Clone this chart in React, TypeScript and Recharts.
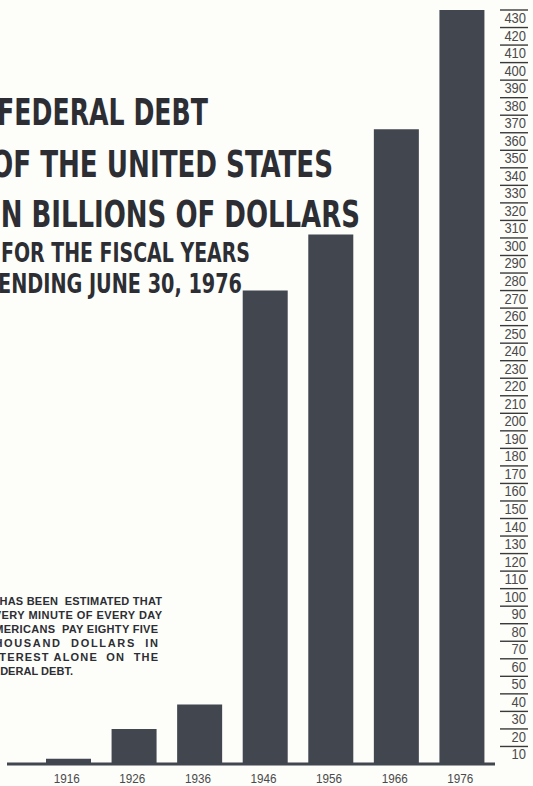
import React from "react";
import { BarChart, Bar, XAxis, YAxis } from "recharts";

// Fiscal years and debt (billions of dollars)
const years = ["1916", "1926", "1936", "1946", "1956", "1966", "1976"];
const debt = [3, 20, 34, 270, 302, 362, 430];

// Scale printed down the right-hand side
const scaleTicks = [
  10, 20, 30, 40, 50, 60, 70, 80, 90, 100, 110, 120, 130, 140, 150, 160, 170,
  180, 190, 200, 210, 220, 230, 240, 250, 260, 270, 280, 290, 300, 310, 320,
  330, 340, 350, 360, 370, 380, 390, 400, 410, 420, 430,
];

const titleLines = [
  "FEDERAL DEBT",
  "OF THE UNITED STATES",
  "IN BILLIONS OF DOLLARS",
  "FOR THE FISCAL YEARS",
  "ENDING JUNE 30, 1976",
];

const noteLines = [
  "IT HAS BEEN  ESTIMATED THAT",
  "EVERY MINUTE OF EVERY DAY",
  "AMERICANS  PAY EIGHTY FIVE",
  "THOUSAND  DOLLARS  IN",
  "INTEREST ALONE  ON  THE",
  "FEDERAL DEBT.",
];

const data = years.map((year, i) => ({ year, debt: debt[i] }));

const W = 533;
const H = 786;
const INK = "#2c2e33";
const BAR = "#41464f";
const PAPER = "#fdfdfa";

// where each title / note line sits on the page (the scan is cropped on the left)
const titleLayout = [
  { x: -3, y: 125, size: 38, len: 211 },
  { x: -9, y: 177, size: 38, len: 342 },
  { x: -9, y: 227, size: 38, len: 369 },
  { x: 1, y: 262, size: 27, len: 249 },
  { x: -2, y: 293, size: 27, len: 244 },
];

const noteLayout = [
  { y: 605, len: 176 },
  { y: 619, len: 176 },
  { y: 633, len: 172 },
  { y: 647, len: 172 },
  { y: 661, len: 172 },
  { y: 675, len: 87 },
];

const YearTick = (props: any) => {
  const { x, y, payload } = props;
  return (
    <text
      x={x - 2}
      y={y + 17}
      textAnchor="middle"
      fontFamily="'Liberation Sans', Arial, sans-serif"
      fontSize={13}
      fill="#4a4a4a"
      textLength={26}
      lengthAdjust="spacingAndGlyphs"
    >
      {payload.value}
    </text>
  );
};

const ScaleTick = (props: any) => {
  const { x, y, payload } = props;
  const label = String(payload.value);
  return (
    <g>
      <line x1={x + 5} x2={x + 33} y1={y} y2={y} stroke="#3a3a3a" strokeWidth={1.4} />
      <text
        x={x + 31}
        y={y + 13}
        textAnchor="end"
        fontFamily="'Liberation Sans', Arial, sans-serif"
        fontSize={14}
        fill="#4a4a4a"
        textLength={label.length * 7.2}
        lengthAdjust="spacingAndGlyphs"
      >
        {label}
      </text>
    </g>
  );
};

export default function App() {
  return (
    <div
      style={{
        position: "absolute",
        left: 0,
        top: 0,
        width: W,
        height: H,
        overflow: "hidden",
        background: PAPER,
      }}
    >
      <BarChart
        width={W}
        height={H}
        data={data}
        margin={{ top: 10, right: 0, bottom: 0, left: 7 }}
      >
        <XAxis
          dataKey="year"
          height={22}
          padding={{ left: 29, right: 0 }}
          tickSize={0}
          tickLine={false}
          axisLine={{ stroke: BAR, strokeWidth: 3 }}
          tick={<YearTick />}
          interval={0}
        />
        <YAxis
          orientation="right"
          width={38}
          domain={[0, 430]}
          ticks={scaleTicks}
          interval={0}
          tickSize={0}
          tickMargin={0}
          axisLine={false}
          tickLine={false}
          tick={<ScaleTick />}
        />
        <Bar dataKey="debt" fill={BAR} barSize={45} isAnimationActive={false} />
      </BarChart>
      <svg
        width={W}
        height={H}
        style={{ position: "absolute", left: 0, top: 0, pointerEvents: "none" }}
      >
        {titleLines.map((line, i) => (
          <text
            key={line}
            x={titleLayout[i].x}
            y={titleLayout[i].y}
            fontFamily="'Liberation Sans Narrow', 'DejaVu Sans Condensed', Arial, sans-serif"
            fontWeight="bold"
            fontSize={titleLayout[i].size}
            fill={INK}
            textLength={titleLayout[i].len}
            lengthAdjust="spacingAndGlyphs"
          >
            {line}
          </text>
        ))}
        {noteLines.map((line, i) => (
          <text
            key={line}
            x={-14}
            y={noteLayout[i].y}
            fontFamily="'Liberation Sans', Arial, sans-serif"
            fontWeight="bold"
            fontSize={11}
            fill={INK}
            textLength={noteLayout[i].len}
            lengthAdjust="spacing"
            style={{ whiteSpace: "pre" }}
          >
            {line}
          </text>
        ))}
      </svg>
    </div>
  );
}
